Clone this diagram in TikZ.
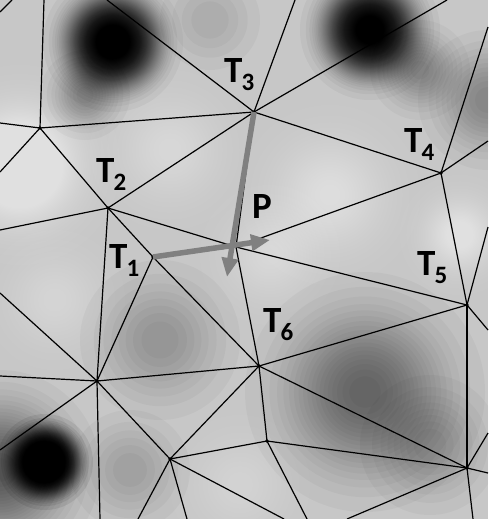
\documentclass[tikz,border=0pt]{standalone}
\usepackage{fontspec}
\setmainfont{Carlito}
\usetikzlibrary{arrows.meta}

\definecolor{bg}{gray}{0.78}

\tikzset{
  edge/.style={line width=1.2pt, black},
  vtx/.style={fill=black},
  vec/.style={draw=gray, line width=5.5pt, -{Triangle[length=19pt,width=16pt]}},
  lbl/.style={anchor=base west, inner sep=0pt, font=\fontsize{37}{37}\selectfont\bfseries}
}
\newcommand{\tsub}[1]{T\kern-1pt\raisebox{-8pt}{\fontsize{25}{25}\selectfont #1}}
% soft spot: colour, x, y, radius, opacity of a ring, number of rings
\newcommand{\blob}[6]{%
  \foreach \k in {1,...,#6}
    \fill[#1, opacity=#5] (#2,#3) circle ({(#4*sqrt(ln(#6/\k)/ln(#6)))*1pt});}

\begin{document}
\begin{tikzpicture}[x=1pt,y=-1pt]
    \useasboundingbox (0,0) rectangle (488,519);

    \begin{scope}
    \clip (0,0) rectangle (488,519);
    \fill[bg] (0,0) rectangle (488,519);
    \blob{white}{20}{165}{100}{0.03}{53}
    \blob{white}{330}{195}{90}{0.03}{23}
    \blob{white}{170}{150}{80}{0.03}{17}
    \blob{white}{460}{235}{60}{0.03}{30}
    \blob{white}{270}{255}{70}{0.03}{17}
    \blob{white}{240}{485}{70}{0.03}{12}
    \blob{white}{55}{300}{70}{0.03}{14}
    \blob{black}{113}{42}{70}{0.04}{86}
    \blob{black}{85}{95}{45}{0.03}{12}
    \blob{black}{370}{30}{70}{0.04}{79}
    \blob{black}{420}{70}{50}{0.03}{12}
    \blob{black}{210}{20}{50}{0.03}{5}
    \blob{black}{488}{100}{70}{0.03}{12}
    \blob{black}{365}{392}{120}{0.03}{20}
    \blob{black}{160}{340}{80}{0.03}{9}
    \blob{black}{0}{470}{100}{0.03}{23}
    \blob{black}{430}{445}{70}{0.03}{9}
    \blob{black}{130}{470}{60}{0.03}{7}
    \blob{black}{45}{462}{48}{0.08}{83}
    \end{scope}

    \coordinate (a) at (40,128);
    \coordinate (t1) at (153,257);
    \coordinate (t2) at (108,208);
    \coordinate (t3) at (254,112);
    \coordinate (t4) at (441,173);
    \coordinate (t5) at (467,305);
    \coordinate (t6) at (259,366);
    \coordinate (p) at (236,247);
    \coordinate (l) at (97,381);
    \coordinate (b) at (170,459);
    \coordinate (c) at (267,441);
    \coordinate (d) at (467,468);

    \coordinate (n1) at (44,0);
    \coordinate (n2) at (0,123);
    \coordinate (n3) at (0,172);
    \coordinate (n4) at (107,0);
    \coordinate (n5) at (295,0);
    \coordinate (n6) at (447,0);
    \coordinate (n7) at (0,230);
    \coordinate (n8) at (488,27);
    \coordinate (n9) at (488,141);
    \coordinate (n10) at (488,227);
    \coordinate (n11) at (488,330);
    \coordinate (n12) at (0,293);
    \coordinate (n13) at (0,376);
    \coordinate (n14) at (0,450);
    \coordinate (n15) at (100,519);
    \coordinate (n16) at (138,519);
    \coordinate (n17) at (187,519);
    \coordinate (n18) at (284,519);
    \coordinate (n19) at (307,519);
    \coordinate (n20) at (347,519);
    \coordinate (n21) at (473,519);
    \coordinate (n22) at (488,473);
    \coordinate (n23) at (488,433);
    \coordinate (k1) at (0,12);
    \coordinate (k2) at (12,0);

    \foreach \s/\e in {a/t3, a/t2, t2/t3, t2/p, t2/t1, t2/l, t3/p, t3/t4, t4/p,
        t4/t5, t5/p, t5/t6, t5/d, p/t6, p/t1, t1/l, t1/t6, t6/l, t6/b, t6/c,
        t6/d, l/b, b/c, c/d}
        \draw[edge] (\s) -- (\e);
    \foreach \s/\e in {a/n1, a/n2, a/n3, t3/n4, t3/n5, t3/n6, t2/n7, t4/n8,
        t4/n9, t5/n10, t5/n11, l/n12, l/n13, l/n14, l/n15, b/n16, b/n17,
        b/n18, c/n19, d/n20, d/n21, d/n22, d/n23, k1/k2}
        \draw[edge] (\s) -- (\e);
    \foreach \v in {a, t1, t2, t3, t4, t5, t6, l, b, c, d}
        \fill[vtx] (\v) circle (1.8pt);

    \coordinate (tip1) at (270,240);
    \coordinate (tip3) at (227,277);
    \draw[vec] (t1) -- (tip1);
    \draw[vec] (t3) -- (tip3);

    \node[lbl] (lt1) at (109,268) {\tsub{1}};
    \node[lbl] (lt2) at (96,182) {\tsub{2}};
    \node[lbl] (lt3) at (224,82) {\tsub{3}};
    \node[lbl] (lt4) at (404,152) {\tsub{4}};
    \node[lbl] (lt5) at (417,275) {\tsub{5}};
    \node[lbl] (lt6) at (263,332) {\tsub{6}};
    \node[lbl] (lp) at (252,218) {P};
\end{tikzpicture}
\end{document}
